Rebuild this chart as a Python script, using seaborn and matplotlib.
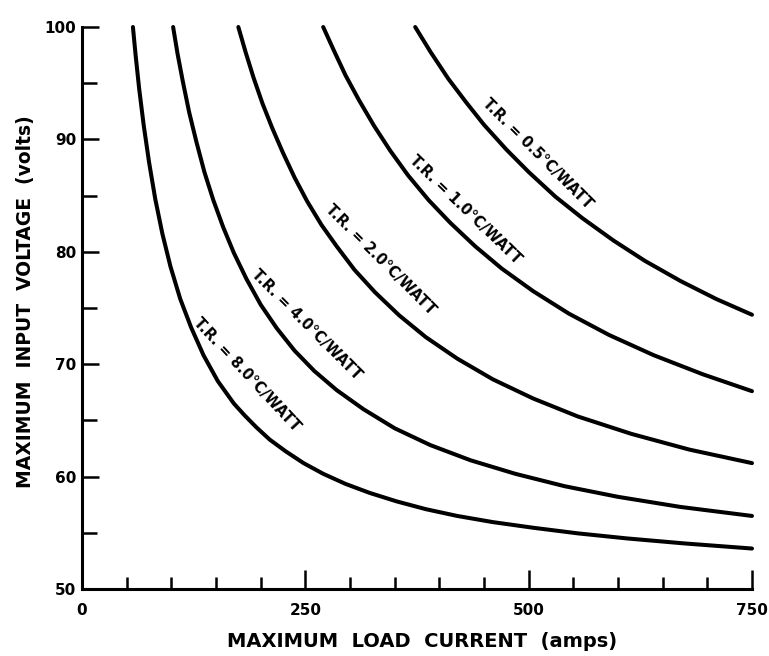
import seaborn as sns
import pandas as pd
import matplotlib.pyplot as plt
from matplotlib.ticker import MultipleLocator

# curvas: corrente (A) x tensão (V) para cada resistência térmica
amps_05 = [373, 390, 410, 430, 450, 475, 500, 530, 560, 595, 630, 670, 710, 750]
volts_05 = [100, 97.8, 95.4, 93.3, 91.3, 89.1, 87.1, 84.9, 83.0, 81.0, 79.2, 77.4, 75.8, 74.4]

amps_10 = [270, 282, 295, 310, 327, 345, 365, 388, 412, 440, 470, 505, 545, 590, 640, 695, 750]
volts_10 = [100, 97.9, 95.7, 93.5, 91.2, 89.0, 86.8, 84.6, 82.6, 80.5, 78.5, 76.5, 74.5, 72.6, 70.8, 69.1, 67.6]

amps_20 = [175, 183, 192, 202, 213, 225, 238, 252, 268, 285, 305, 328, 355, 385, 420, 460, 505, 555, 615, 680, 750]
volts_20 = [100, 97.8, 95.5, 93.2, 91.0, 88.8, 86.6, 84.5, 82.4, 80.5, 78.4, 76.4, 74.35, 72.4, 70.5, 68.65, 66.95, 65.35, 63.8, 62.4, 61.2]

amps_40 = [102, 107, 113, 120, 128, 137, 147, 158, 170, 184, 200, 218, 238, 260, 285, 315, 350, 390, 435, 485, 540, 600, 670, 750]
volts_40 = [100, 97.6, 95.1, 92.4, 89.8, 87.1, 84.6, 82.2, 79.9, 77.6, 75.3, 73.2, 71.2, 69.4, 67.7, 66.0, 64.3, 62.8, 61.45, 60.25, 59.15, 58.2, 57.3, 56.5]

amps_80 = [57, 60, 64, 69, 75, 82, 90, 99, 110, 122, 136, 152, 170, 182, 195, 210, 228, 248, 270,
           295, 322, 352, 385, 420, 460, 505, 555, 610, 675, 750]
volts_80 = [100, 97.5, 94.5, 91.3, 88.0, 84.7, 81.6, 78.7, 75.8, 73.3, 70.8, 68.5, 66.5, 65.45, 64.4, 63.3, 62.25, 61.2, 60.25,
            59.35, 58.55, 57.8, 57.1, 56.5, 55.95, 55.45, 54.95, 54.5, 54.05, 53.6]

rotulos = ["T.R. = 0.5°C/WATT", "T.R. = 1.0°C/WATT", "T.R. = 2.0°C/WATT",
           "T.R. = 4.0°C/WATT", "T.R. = 8.0°C/WATT"]

curvas = [
    (amps_05, volts_05, rotulos[0], 510, 88.7, -45),
    (amps_10, volts_10, rotulos[1], 429, 83.7, -44),
    (amps_20, volts_20, rotulos[2], 334, 79.3, -45),
    (amps_40, volts_40, rotulos[3], 251, 73.5, -45),
    (amps_80, volts_80, rotulos[4], 185, 69.1, -47),
]

sns.set_style("ticks")
plt.rcParams['font.family'] = ['DejaVu Sans']
plt.rcParams['text.color'] = 'black'
plt.rcParams['axes.labelcolor'] = 'black'
plt.rcParams['axes.edgecolor'] = 'black'
plt.rcParams['xtick.color'] = 'black'
plt.rcParams['ytick.color'] = 'black'

fig = plt.figure(figsize=(7.69, 6.56), dpi=100)
ax = fig.add_axes([82/769, 1 - 589/656, 670/769, 562/656])

for amps, volts, rotulo, tx, ty, ang in curvas:
    df = pd.DataFrame({'amps': amps, 'volts': volts})
    sns.lineplot(data=df, x='amps', y='volts', ax=ax, color='black', linewidth=2.9,
                 sort=False, estimator=None, clip_on=False)
    ax.text(tx, ty, rotulo, rotation=ang, ha='center', va='center', rotation_mode='anchor',
            fontsize=10.5, fontweight='bold')

ax.set_xlim(0, 750)
ax.set_ylim(50, 100)
ax.xaxis.set_major_locator(MultipleLocator(250))
ax.xaxis.set_minor_locator(MultipleLocator(50))
ax.yaxis.set_major_locator(MultipleLocator(10))
ax.yaxis.set_minor_locator(MultipleLocator(5))

ax.tick_params(axis='x', which='both', bottom=True, direction='in', width=1.8)
ax.tick_params(axis='y', which='both', left=True, direction='in', width=1.8)
ax.tick_params(axis='x', which='major', length=13.5, pad=10, labelsize=11)
ax.tick_params(axis='x', which='minor', length=8.5)
ax.tick_params(axis='y', which='major', length=12.5, pad=4, labelsize=11)
ax.tick_params(axis='y', which='minor', length=10.5)
for t in ax.get_xticklabels() + ax.get_yticklabels():
    t.set_fontweight('bold')

sns.despine(ax=ax)
ax.spines['left'].set_linewidth(2.2)
ax.spines['bottom'].set_linewidth(2.2)

ax.set_xlabel("MAXIMUM  LOAD  CURRENT  (amps)", fontsize=14, fontweight='bold')
ax.set_ylabel("MAXIMUM  INPUT  VOLTAGE  (volts)", fontsize=13.5, fontweight='bold')
ax.xaxis.set_label_coords(0.507, -0.076)
ax.yaxis.set_label_coords(-0.07, 0.511)

fig.savefig('out.png', dpi=100)
